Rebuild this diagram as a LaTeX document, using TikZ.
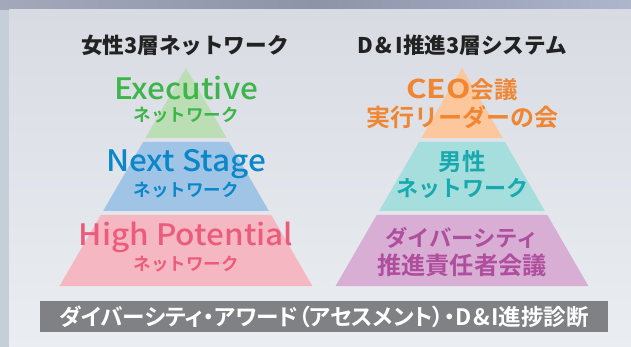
\documentclass[tikz,border=0pt]{standalone}
\usepackage{fontspec}
\newfontfamily\jp{Noto Sans CJK JP Medium}[FakeStretch=1.07]
\newfontfamily\jpb{Noto Sans CJK JP Bold}
\newfontfamily\jpk{Noto Sans CJK JP Black}
\newfontfamily\jpbp{Noto Sans CJK JP Bold}[RawFeature=+palt]
\usetikzlibrary{positioning}
\definecolor{gfill}{HTML}{BBDEB4}
\definecolor{gtext}{HTML}{3DB54A}
\definecolor{bfill}{HTML}{A0C4E6}
\definecolor{btext}{HTML}{0A87C9}
\definecolor{pfill}{HTML}{F5B8C2}
\definecolor{ptext}{HTML}{EC5B7C}
\definecolor{ofill}{HTML}{FCC79C}
\definecolor{otext}{HTML}{F08632}
\definecolor{tfill}{HTML}{A6DEDD}
\definecolor{ttext}{HTML}{17A9AE}
\definecolor{ufill}{HTML}{D8AED5}
\definecolor{utext}{HTML}{B04E9E}
\definecolor{barc}{HTML}{808185}
\definecolor{titlec}{HTML}{222222}
\definecolor{panelA}{HTML}{D8DBE2}
\definecolor{panelB}{HTML}{EAEDF1}
\definecolor{bandA}{HTML}{A3A9BB}
\definecolor{bandB}{HTML}{8E94A8}
\definecolor{bandC}{HTML}{AEB6CC}
\definecolor{sidec}{HTML}{C6CEDA}
\newcommand{\fs}[1]{\fontsize{#1}{#1}\selectfont}
\newcommand{\dandi}{D\kern1.5pt\&\kern1.5pt I}
\tikzset{
  big/.style={inner sep=0pt, font=\jp\fs{29.5}},
  small/.style={inner sep=0pt, font=\jpb\fs{17.5}},
  rtext/.style={inner sep=0pt, font=\jpb\fs{23.5}},
  title/.style={inner sep=0pt, text=titlec, font=\jpk\fs{21.6}},
}
\begin{document}
\begin{tikzpicture}[x=1pt,y=-1pt]
\useasboundingbox (0,0) rectangle (631,347);
% background
\fill[sidec] (0,0) rectangle (631,347);
\shade[left color=bandA, right color=bandC, middle color=bandB] (0,0) rectangle (631,10);
\shade[top color=panelA, bottom color=panelB] (9,10) rectangle (631,347);
% left pyramid
\fill[gfill] (186,68) -- (226.6,138) -- (145.4,138) -- cycle;
\fill[bfill] (143.1,142) -- (228.9,142) -- (268.9,211) -- (103.1,211) -- cycle;
\fill[pfill] (100.7,215) -- (271.3,215) -- (312.4,286) -- (59.6,286) -- cycle;
% right pyramid
\fill[ofill] (462,68) -- (502.6,138) -- (421.4,138) -- cycle;
\fill[tfill] (419.1,142) -- (504.9,142) -- (544.9,211) -- (379.1,211) -- cycle;
\fill[ufill] (376.7,215) -- (547.3,215) -- (588.4,286) -- (335.6,286) -- cycle;
% titles
\node[title] (t1) at (185,45) {女性3層ネットワーク};
\node[title] (t2) at (462,45) {D\kern3pt\&\kern3pt I推進3層システム};
% left texts
\node[big, text=gtext] (ex) at (186,88) {Executive};
\node[small, text=gtext] (exn) at (186,115) {ネットワーク};
\node[big, text=btext] (ns) at (186,164) {Next Stage};
\node[small, text=btext] (nsn) at (186,190) {ネットワーク};
\node[big, text=ptext] (hp) at (186,237) {High Potential};
\node[small, text=ptext] (hpn) at (186,264) {ネットワーク};
% right texts
\node[rtext, text=otext] (ceo) at (462,90) {\scalebox{1.35}[1.1]{CEO}会議};
\node[rtext, text=otext, font=\jpb\fs{24}] (jk) at (462,117) {実行リーダーの会};
\node[rtext, text=ttext] (ds) at (462,162) {男性};
\node[rtext, text=ttext, font=\jpb\fs{22}] (dsn) at (462,188) {ネットワーク};
\node[rtext, text=utext, font=\jpb\fs{22.3}] (dv) at (462,238) {ダイバーシティ};
\node[rtext, text=utext, font=\jpb\fs{24.2}] (sk) at (462,265) {推進責任者会議};
% bottom bar
\fill[barc] (40,301) rectangle (608,332);
\node[inner sep=0pt, text=white, font=\jpbp\fs{22.6}] (bar) at (324,317) {ダイバーシティ・アワード（アセスメント）・\dandi 進捗診断};
\end{tikzpicture}
\end{document}
